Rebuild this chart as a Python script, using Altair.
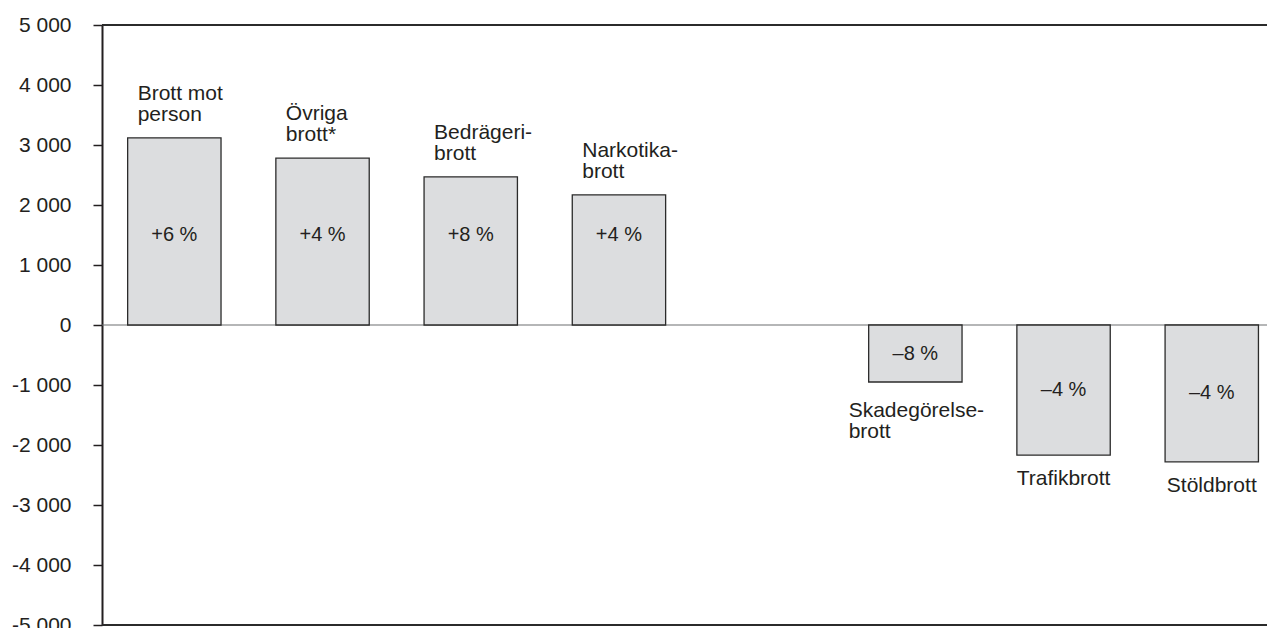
import altair as alt
import pandas as pd

# ---- data ----
slots = ["Brott mot person", "Övriga brott*", "Bedrägeribrott", "Narkotikabrott",
         "(tom)", "Skadegörelsebrott", "Trafikbrott", "Stöldbrott"]
categories = ["Brott mot person", "Övriga brott*", "Bedrägeribrott", "Narkotikabrott",
              "Skadegörelsebrott", "Trafikbrott", "Stöldbrott"]
label_lines = [["Brott mot", "person"], ["Övriga", "brott*"], ["Bedrägeri-", "brott"],
               ["Narkotika-", "brott"], ["Skadegörelse-", "brott"], ["Trafikbrott"], ["Stöldbrott"]]
change = [3120, 2780, 2470, 2170, -950, -2170, -2280]
pct_text = ["+6 %", "+4 %", "+8 %", "+4 %", "–8 %", "–4 %", "–4 %"]
y_ticks = [-5000, -4000, -3000, -2000, -1000, 0, 1000, 2000, 3000, 4000, 5000]
frame_values = [5000, -5000]
zero_value = [0]

df = pd.DataFrame({
    "cat": categories,
    "lines": label_lines,
    "value": change,
    "pct": pct_text,
    "nlines": [len(l) for l in label_lines],
})
frame_df = pd.DataFrame({"fv": frame_values})
zero_df = pd.DataFrame({"zv": zero_value})

FONT = "Liberation Sans"
TXT = "#231f20"
FS = 21
W, H = 1165, 600

yscale = alt.Scale(domain=[-5000, 5000], nice=False, zero=False)
xscale = alt.Scale(domain=slots, paddingInner=0.37, paddingOuter=0.1154, align=0.75)
yaxis = alt.Axis(values=y_ticks, grid=False, title=None,
                 labelExpr="(datum.value < 0 ? '-' : '') + replace(format(abs(datum.value), ','), ',', ' ')",
                 labelFont=FONT, labelFontSize=FS, labelColor=TXT,
                 labelPadding=22, tickSize=9, tickWidth=1.5, tickColor=TXT,
                 domainColor=TXT, domainWidth=2)

base = alt.Chart(df)

zero = alt.Chart(zero_df).mark_rule(color="#6d6e70", strokeWidth=1.2).encode(
    y=alt.Y("zv:Q", scale=yscale, axis=yaxis, title=None),
)

bars = base.mark_bar(fill="#dcdddf", stroke="#2b2b2b", strokeWidth=1.3).encode(
    x=alt.X("cat:N", scale=xscale, axis=None),
    y=alt.Y("value:Q", scale=yscale, axis=yaxis, title=None),
)

top_labels = base.transform_filter("datum.value > 0").mark_text(
    align="left", baseline="bottom", dx=10, dy=-34, font=FONT, fontSize=FS,
    lineHeight=21, color=TXT
).encode(
    x=alt.X("cat:N", scale=xscale, bandPosition=0, axis=None),
    y=alt.Y("value:Q", scale=yscale, axis=yaxis, title=None),
    text="lines",
)

neg_multi = base.transform_filter("datum.value < 0 && datum.nlines > 1").mark_text(
    align="left", baseline="top", dx=-20, dy=18, font=FONT, fontSize=FS,
    lineHeight=21, color=TXT
).encode(
    x=alt.X("cat:N", scale=xscale, bandPosition=0, axis=None),
    y=alt.Y("value:Q", scale=yscale, axis=yaxis, title=None),
    text="lines",
)

neg_single = base.transform_filter("datum.value < 0 && datum.nlines == 1").mark_text(
    align="center", baseline="top", dy=13, font=FONT, fontSize=FS,
    lineHeight=21, color=TXT
).encode(
    x=alt.X("cat:N", scale=xscale, axis=None),
    y=alt.Y("value:Q", scale=yscale, axis=yaxis, title=None),
    text="lines",
)

pct_labels = base.transform_calculate(
    ly="datum.value > 0 ? 1500 : datum.value / 2"
).mark_text(
    align="center", baseline="middle", font=FONT, fontSize=20, color=TXT
).encode(
    x=alt.X("cat:N", scale=xscale, axis=None),
    y=alt.Y("ly:Q", scale=yscale, axis=yaxis, title=None),
    text="pct:N",
)

main = alt.layer(zero, bars, top_labels, neg_multi, neg_single, pct_labels)

# top / bottom frame lines in a layer of their own, with its own y scale and no axis
frame = alt.Chart(frame_df).mark_rule(color="#2b2b2b", strokeWidth=2).encode(
    y=alt.Y("fv:Q", scale=alt.Scale(domain=[-5000, 5000], nice=False, zero=False),
            axis=None, title=None),
)

chart = alt.layer(main, frame).resolve_scale(y="independent").resolve_axis(
    y="independent"
).properties(
    width=W, height=H,
    autosize=alt.AutoSizeParams(type="none"),
    padding={"left": 94, "top": 17, "right": 0, "bottom": 8},
    background="white",
).configure_view(stroke=None)

chart.save("out.html", embed_options={"renderer": "svg", "actions": False})
